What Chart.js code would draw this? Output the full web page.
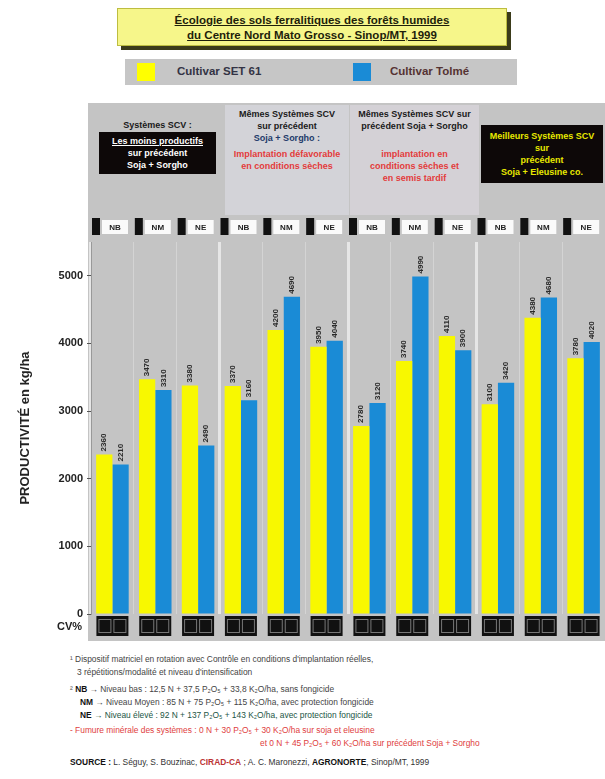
<!DOCTYPE html>
<html>
<head>
<meta charset="utf-8">
<script src="https://cdn.jsdelivr.net/npm/chart.js@4.4.0/dist/chart.umd.min.js"></script>
<style>
  body { margin: 0; width: 605px; height: 779px; background: #fff; font-family: "Liberation Sans", Arial, sans-serif; position: relative; overflow: hidden; }
  .abs { position: absolute; }
  #title { left: 117px; top: 8px; width: 390px; height: 38px; background: #f6f68a; box-shadow: 4px 4px 0 #3b3b1a; border: 1px solid #bdbd40;
    font-size: 11.5px; font-weight: bold; color: #1e1e0a; text-align: center; line-height: 15px; padding-top: 4px; box-sizing: border-box; }
  #legend { left: 125px; top: 59px; width: 392px; height: 26px; background: #c6c6c6; font-size: 11.5px; font-weight: bold; }
  .sw { position: absolute; top: 4px; width: 18px; height: 18px; }
  .lt { position: absolute; top: 6px; }
  #panel { left: 88px; top: 103px; width: 517px; height: 538px; background: #c4c4c4; }
  .blk { position: absolute; top: 105px; height: 110px; text-align: center; font-size: 9px; font-weight: bold; line-height: 12px; color: #1a1a1a; }
  .black { background: #0d0808; color: #fff; }
  .red { color: #e33b3b; }
  #notes { left: 48px; top: 653px; width: 557px; font-size: 8.4px; line-height: 13px; color: #444; }
  #notes b { color: #111; }
</style>
</head>
<body>
<div id="title" class="abs"><u>Écologie des sols ferralitiques des forêts humides<br>du Centre Nord Mato Grosso - Sinop/MT, 1999</u></div>
<div id="legend" class="abs">
  <div class="sw" style="left:12px;background:#ffff00;"></div>
  <div class="lt" style="left:52px;color:#334;">Cultivar SET 61</div>
  <div class="sw" style="left:228px;background:#1a8bd6;"></div>
  <div class="lt" style="left:265px;color:#533;">Cultivar Tolmé</div>
</div>
<div id="panel" class="abs"></div>

<div class="blk" style="left:91px;width:133px;">
  <div style="margin-top:14px;">Systèmes SCV :</div>
  <div class="black" style="margin:1px 8px 0 8px;padding:3px 0;"><u>Les moins productifs</u><br>sur précédent<br>Soja + Sorgho</div>
</div>
<div class="blk" style="left:225px;width:124px;background:#d3d3d8;">
  <div style="margin-top:3px;">Mêmes Systèmes SCV<br>sur précédent</div>
  <div style="color:#1d3a6a;">Soja + Sorgho :</div>
  <div class="red" style="margin-top:4px;">Implantation défavorable<br>en conditions sèches</div>
</div>
<div class="blk" style="left:350px;width:129px;background:#d4d1d6;">
  <div style="margin-top:3px;">Mêmes Systèmes SCV sur<br>précédent Soja + Sorgho</div>
  <div class="red" style="margin-top:16px;">implantation en<br>conditions sèches et<br>en semis tardif</div>
</div>
<div class="blk" style="left:479px;width:126px;">
  <div class="black" style="margin:20px 2px 0 2px;padding:5px 0;color:#e8e800;">Meilleurs Systèmes SCV<br>sur<br>précédent<br>Soja + Eleusine co.</div>
</div>

<canvas id="chart" class="abs" style="left:0;top:200px;" width="605" height="445"></canvas>

<div id="notes" class="abs">
  <div style="padding-left:22px;">¹ Dispositif matriciel en rotation avec Contrôle en conditions d'implantation réelles,<br>&nbsp;&nbsp;&nbsp;3 répétitions/modalité et niveau d'intensification</div>
  <div style="padding-left:22px;margin-top:4px;">² <b>NB</b> → Niveau bas : 12,5 N + 37,5 P₂O₅ + 33,8 K₂O/ha, sans fongicide</div>
  <div style="padding-left:32px;"><b>NM</b> → Niveau Moyen : 85 N + 75 P₂O₅ + 115 K₂O/ha, avec protection fongicide</div>
  <div style="padding-left:32px;color:#254;"><b>NE</b> → Niveau élevé : 92 N + 137 P₂O₅ + 143 K₂O/ha, avec protection fongicide</div>
  <div style="padding-left:22px;color:#e04040;margin-top:2px;">- Fumure minérale des systèmes : 0 N + 30 P₂O₅ + 30 K₂O/ha sur soja et eleusine<br><span style="padding-left:190px;">et 0 N + 45 P₂O₅ + 60 K₂O/ha sur précédent Soja + Sorgho</span></div>
  <div style="padding-left:22px;color:#333;margin-top:6px;font-size:8.4px;"><b>SOURCE :</b> L. Séguy, S. Bouzinac, <b style="color:#b33;">CIRAD-CA</b> ; A. C. Maronezzi, <b>AGRONORTE</b>, Sinop/MT, 1999</div>
</div>

<script>
// Data
// ========================================================================
var levels = ["NB", "NM", "NE", "NB", "NM", "NE", "NB", "NM", "NE", "NB", "NM", "NE"];
var cultivarA = [2360, 3470, 3380, 3370, 4200, 3950, 2780, 3740, 4110, 3100, 4380, 3780];
var cultivarB = [2210, 3310, 2490, 3160, 4690, 4040, 3120, 4990, 3900, 3420, 4680, 4020];
var yTicks = [0, 1000, 2000, 3000, 4000, 5000];

// Extra drawing: level row, value labels, CV% boxes
// ========================================================================
var extras = {
  id: 'extras',
  afterDatasetsDraw: function (chart) {
    var ctx = chart.ctx;
    var x = chart.scales.x;
    var half = (x.right - x.left) / levels.length / 2;
    ctx.save();

    levels.forEach(function (lv, i) {
      var c = x.getPixelForValue(i);
      var l = c - half;
      ctx.fillStyle = '#111';
      ctx.fillRect(l + 1, 18, 8, 17);
      ctx.fillStyle = '#fafafa';
      ctx.fillRect(l + 11, 20, 26, 14);
      ctx.fillStyle = '#222';
      ctx.font = 'bold 8px "Liberation Sans", Arial';
      ctx.textAlign = 'center';
      ctx.textBaseline = 'middle';
      ctx.fillText(lv, l + 24, 27.5);

      ctx.fillStyle = '#111';
      ctx.fillRect(c - 16, 416, 32, 20);
      ctx.strokeStyle = '#777';
      ctx.lineWidth = 1;
      ctx.strokeRect(c - 13.5, 419.5, 12, 13);
      ctx.strokeRect(c + 1.5, 419.5, 12, 13);
    });

    ctx.font = 'bold 8px "Liberation Sans", Arial';
    ctx.fillStyle = '#2a2a2a';
    ctx.textAlign = 'left';
    ctx.textBaseline = 'middle';
    chart.data.datasets.forEach(function (ds, di) {
      chart.getDatasetMeta(di).data.forEach(function (bar, i) {
        ctx.save();
        ctx.translate(bar.x, bar.y - 3);
        ctx.rotate(-Math.PI / 2);
        ctx.fillText(ds.data[i], 0, 0);
        ctx.restore();
      });
    });

    ctx.fillStyle = '#222';
    ctx.font = 'bold 11px "Liberation Sans", Arial';
    ctx.textAlign = 'right';
    ctx.fillText('CV%', 82, 427);
    ctx.restore();
  }
};

var chartEl = document.getElementById('chart');
new Chart(chartEl, {
  type: 'bar',
  data: {
    labels: levels,
    datasets: [{
      label: "Cultivar SET 61",
      backgroundColor: "#f8f800",
      data: cultivarA
    }, {
      label: "Cultivar Tolmé",
      backgroundColor: "#1a8bd6",
      data: cultivarB
    }]
  },
  plugins: [extras],
  options: {
    responsive: false,
    animation: false,
    layout: { padding: { top: 42, bottom: 31, left: 0, right: 0 } },
    datasets: {
      bar: { categoryPercentage: 0.76, barPercentage: 1.0 }
    },
    plugins: {
      legend: { display: false },
      tooltip: { enabled: false }
    },
    scales: {
      x: {
        ticks: { display: false },
        border: { display: false },
        afterFit: function (s) { s.height = 0; },
        grid: {
          offset: true,
          drawTicks: false,
          color: function (c) { return c.index % 3 === 0 ? '#e6e6e6' : '#d4d4d4'; },
          lineWidth: function (c) { return c.index % 3 === 0 ? 3 : 1; }
        }
      },
      y: {
        min: 0,
        max: 5500,
        afterBuildTicks: function (s) {
          s.ticks = yTicks.map(function (v) { return { value: v }; });
        },
        afterFit: function (s) { s.width = 91; },
        border: { color: '#999' },
        grid: { drawOnChartArea: false, tickLength: 4, color: '#555' },
        ticks: {
          color: '#222',
          padding: 4,
          callback: function (v) { return String(v); },
          font: { family: '"Liberation Sans", Arial', size: 11, weight: 'bold' }
        },
        title: {
          display: true,
          text: 'PRODUCTIVITÉ en kg/ha',
          color: '#222',
          padding: { top: 18, bottom: 0 },
          font: { family: '"Liberation Sans", Arial', size: 13, weight: 'bold' }
        }
      }
    }
  }
});
</script>
</body>
</html>
